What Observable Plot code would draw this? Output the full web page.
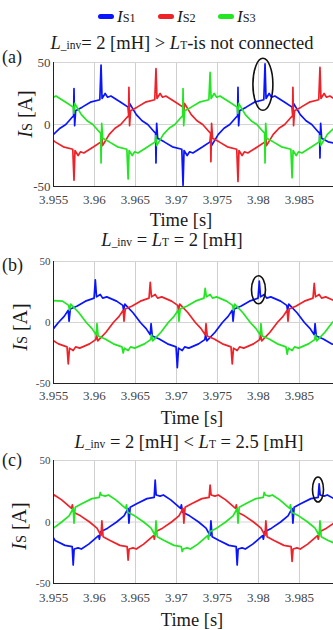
<!DOCTYPE html>
<html><head><meta charset="utf-8">
<script src="https://cdn.jsdelivr.net/npm/d3@7"></script>
<script src="https://cdn.jsdelivr.net/npm/@observablehq/plot@0.6"></script>
<style>
body{margin:0;background:#fff;}
#root{position:relative;width:333px;height:630px;overflow:hidden;font-family:"Liberation Serif","Times New Roman",serif;color:#1a1a1a;}
#root svg text{font-family:"Liberation Serif","Times New Roman",serif !important;}
.abs{position:absolute;white-space:nowrap;line-height:1;}
.sub{font-size:0.62em;}
.dash{position:absolute;width:16px;height:5px;border-radius:2.5px;}
.panel{position:absolute;left:0;}
</style></head><body><div id="root"></div>
<script>
// ---------- data (time [s], current [A]) ----------
const seriesNames = ["Is1", "Is2", "Is3"];
const seriesColors = ["#0a14ff", "#ee2228", "#22e622"];
const xTicks = [3.955, 3.96, 3.965, 3.97, 3.975, 3.98, 3.985];
const xTickLabels = ["3.955", "3.96", "3.965", "3.97", "3.975", "3.98", "3.985"];
const yTicks = [-50, 0, 50];
const yTickLabels = ["-50", "0", "50"];

const a_Is1 = [[3.9550,-8],[3.9558,-3],[3.9565,0],[3.9573,6],[3.95745,7],[3.9575,29],[3.95758,-1],[3.9577,11],[3.9585,14],[3.9595,18],[3.96065,20],[3.9608,48],[3.96092,21],[3.9613,25],[3.9616,22],[3.9620,23],[3.9632,18],[3.9641,14],[3.96418,9],[3.96428,17],[3.9651,8],[3.9658,3],[3.9665,0],[3.9673,-6],[3.96745,-7],[3.9675,-31],[3.96758,1],[3.9677,-11],[3.9685,-14],[3.9695,-18],[3.97065,-20],[3.9708,-49],[3.97092,-21],[3.9713,-25],[3.9716,-22],[3.9720,-23],[3.9732,-18],[3.9741,-14],[3.97418,-9],[3.97428,-17],[3.9751,-8],[3.9758,-3],[3.9765,0],[3.9773,6],[3.97745,7],[3.9775,30],[3.97758,-1],[3.9777,11],[3.9785,14],[3.9795,18],[3.98065,20],[3.9808,49],[3.98092,21],[3.9813,25],[3.9816,22],[3.9820,23],[3.9832,18],[3.9841,14],[3.98418,9],[3.98428,17],[3.9851,8],[3.9858,3],[3.9865,0],[3.9873,-6],[3.98745,-7],[3.9875,-27],[3.98758,1],[3.9877,-11],[3.9885,-14],[3.9892,-15]];
const a_Is2 = [[3.9550,-13],[3.9552,-14],[3.9562,-18],[3.95735,-20],[3.9575,-45],[3.95762,-21],[3.9580,-25],[3.9583,-22],[3.9587,-23],[3.9599,-18],[3.9608,-14],[3.96088,-9],[3.96098,-17],[3.9618,-8],[3.9625,-3],[3.9632,0],[3.9640,6],[3.96415,7],[3.9642,30],[3.96428,-1],[3.9644,11],[3.9652,14],[3.9662,18],[3.96735,20],[3.9675,45],[3.96762,21],[3.9680,25],[3.9683,22],[3.9687,23],[3.9699,18],[3.9708,14],[3.97088,9],[3.97098,17],[3.9718,8],[3.9725,3],[3.9732,0],[3.9740,-6],[3.97415,-7],[3.9742,-30],[3.97428,1],[3.9744,-11],[3.9752,-14],[3.9762,-18],[3.97735,-20],[3.9775,-46],[3.97762,-21],[3.9780,-25],[3.9783,-22],[3.9787,-23],[3.9799,-18],[3.9808,-14],[3.98088,-9],[3.98098,-17],[3.9818,-8],[3.9825,-3],[3.9832,0],[3.9840,6],[3.98415,7],[3.9842,30],[3.98428,-1],[3.9844,11],[3.9852,14],[3.9862,18],[3.98735,20],[3.9875,46],[3.98762,21],[3.9880,25],[3.9883,22],[3.9887,23],[3.9892,21]];
const a_Is3 = [[3.9550,22],[3.9553,23],[3.9565,18],[3.9574,14],[3.95748,9],[3.95758,17],[3.9584,8],[3.9591,3],[3.9598,0],[3.9606,-6],[3.96075,-7],[3.9608,-31],[3.96088,1],[3.9610,-11],[3.9618,-14],[3.9628,-18],[3.96395,-20],[3.9641,-44],[3.96422,-21],[3.9646,-25],[3.9649,-22],[3.9653,-23],[3.9665,-18],[3.9674,-14],[3.96748,-9],[3.96758,-17],[3.9684,-8],[3.9691,-3],[3.9698,0],[3.9706,6],[3.97075,7],[3.9708,29],[3.97088,-1],[3.9710,11],[3.9718,14],[3.9728,18],[3.97395,20],[3.9741,42],[3.97422,21],[3.9746,25],[3.9749,22],[3.9753,23],[3.9765,18],[3.9774,14],[3.97748,9],[3.97758,17],[3.9784,8],[3.9791,3],[3.9798,0],[3.9806,-6],[3.98075,-7],[3.9808,-31],[3.98088,1],[3.9810,-11],[3.9818,-14],[3.9828,-18],[3.98395,-20],[3.9841,-43],[3.98422,-21],[3.9846,-25],[3.9849,-22],[3.9853,-23],[3.9865,-18],[3.9874,-14],[3.98748,-9],[3.98758,-17],[3.9884,-8],[3.9892,-3]];

const b_Is1 = [[3.9550,-5],[3.9556,0],[3.9563,5],[3.9568,10],[3.9569,1],[3.95705,11],[3.9579,13.5],[3.9589,17.5],[3.95995,20],[3.9601,35],[3.96025,21],[3.9607,23],[3.9610,20],[3.9615,21],[3.9627,17.5],[3.96345,14],[3.96355,10],[3.9637,15],[3.9647,8],[3.9656,0],[3.9663,-5],[3.9668,-10],[3.9669,-1],[3.96705,-11],[3.9679,-13.5],[3.9689,-17.5],[3.96995,-20],[3.9701,-37],[3.97025,-21],[3.9707,-23],[3.9710,-20],[3.9715,-21],[3.9727,-17.5],[3.97345,-14],[3.97355,-10],[3.9737,-15],[3.9747,-8],[3.9756,0],[3.9763,5],[3.9768,10],[3.9769,1],[3.97705,11],[3.9779,13.5],[3.9789,17.5],[3.97995,20],[3.9801,34],[3.98025,21],[3.9807,23],[3.9810,20],[3.9815,21],[3.9827,17.5],[3.98345,14],[3.98355,10],[3.9837,15],[3.9847,8],[3.9856,0],[3.9863,-5],[3.9868,-10],[3.9869,-1],[3.98705,-11],[3.9879,-13.5],[3.9889,-17.5],[3.9892,-18]];
const b_Is2 = [[3.9550,-15],[3.9556,-17.5],[3.95665,-20],[3.9568,-34],[3.95695,-21],[3.9574,-23],[3.9577,-20],[3.9582,-21],[3.9594,-17.5],[3.96015,-14],[3.96025,-10],[3.9604,-15],[3.9614,-8],[3.9623,0],[3.9630,5],[3.9635,10],[3.9636,1],[3.96375,11],[3.9646,13.5],[3.9656,17.5],[3.96665,20],[3.9668,33],[3.96695,21],[3.9674,23],[3.9677,20],[3.9682,21],[3.9694,17.5],[3.97015,14],[3.97025,10],[3.9704,15],[3.9714,8],[3.9723,0],[3.9730,-5],[3.9735,-10],[3.9736,-1],[3.97375,-11],[3.9746,-13.5],[3.9756,-17.5],[3.97665,-20],[3.9768,-34],[3.97695,-21],[3.9774,-23],[3.9777,-20],[3.9782,-21],[3.9794,-17.5],[3.98015,-14],[3.98025,-10],[3.9804,-15],[3.9814,-8],[3.9823,0],[3.9830,5],[3.9835,10],[3.9836,1],[3.98375,11],[3.9846,13.5],[3.9856,17.5],[3.98665,20],[3.9868,32],[3.98695,21],[3.9874,23],[3.9877,20],[3.9882,21],[3.9892,18]];
const b_Is3 = [[3.9550,18],[3.9561,17.5],[3.95685,14],[3.95695,10],[3.9571,15],[3.9581,8],[3.9590,0],[3.9597,-5],[3.9602,-10],[3.9603,-1],[3.96045,-11],[3.9613,-13.5],[3.9623,-17.5],[3.96335,-20],[3.9635,-25],[3.96365,-21],[3.9641,-23],[3.9644,-20],[3.9649,-21],[3.9661,-17.5],[3.96685,-14],[3.96695,-10],[3.9671,-15],[3.9681,-8],[3.9690,0],[3.9697,5],[3.9702,10],[3.9703,1],[3.97045,11],[3.9713,13.5],[3.9723,17.5],[3.97335,20],[3.9735,28],[3.97365,21],[3.9741,23],[3.9744,20],[3.9749,21],[3.9761,17.5],[3.97685,14],[3.97695,10],[3.9771,15],[3.9781,8],[3.9790,0],[3.9797,-5],[3.9802,-10],[3.9803,-1],[3.98045,-11],[3.9813,-13.5],[3.9823,-17.5],[3.98335,-20],[3.9835,-26],[3.98365,-21],[3.9841,-23],[3.9844,-20],[3.9849,-21],[3.9861,-17.5],[3.98685,-14],[3.98695,-10],[3.9871,-15],[3.9881,-8],[3.9890,0],[3.9892,1]];

const c_Is1 = [[3.9550,-13],[3.9552,-15],[3.9564,-19],[3.95728,-20],[3.9574,-35],[3.95752,-22],[3.9580,-21],[3.9584,-22],[3.9593,-18],[3.9605,-11],[3.9606,-14],[3.96075,-8],[3.9616,-5],[3.9627,0],[3.9636,5],[3.9641,11],[3.9642,-1],[3.96435,12],[3.9652,15],[3.9664,19],[3.96728,20],[3.9674,34],[3.96752,22],[3.9680,21],[3.9684,22],[3.9693,18],[3.9705,11],[3.9706,14],[3.97075,8],[3.9716,5],[3.9727,0],[3.9736,-5],[3.9741,-11],[3.9742,1],[3.97435,-12],[3.9752,-15],[3.9764,-19],[3.97728,-20],[3.9774,-35],[3.97752,-22],[3.9780,-21],[3.9784,-22],[3.9793,-18],[3.9805,-11],[3.9806,-14],[3.98075,-8],[3.9816,-5],[3.9827,0],[3.9836,5],[3.9841,11],[3.9842,-1],[3.98435,12],[3.9852,15],[3.9864,19],[3.98728,20],[3.9874,31],[3.98752,22],[3.9880,21],[3.9884,22],[3.9892,19]];
const c_Is2 = [[3.9550,21],[3.9551,22],[3.9560,18],[3.9572,11],[3.9573,14],[3.95745,8],[3.9583,5],[3.9594,0],[3.9603,-5],[3.9608,-11],[3.9609,1],[3.96105,-12],[3.9619,-15],[3.9631,-19],[3.96398,-20],[3.9641,-31],[3.96422,-22],[3.9647,-21],[3.9651,-22],[3.9660,-18],[3.9672,-11],[3.9673,-14],[3.96745,-8],[3.9683,-5],[3.9694,0],[3.9703,5],[3.9708,11],[3.9709,-1],[3.97105,12],[3.9719,15],[3.9731,19],[3.97398,20],[3.9741,30],[3.97422,22],[3.9747,21],[3.9751,22],[3.9760,18],[3.9772,11],[3.9773,14],[3.97745,8],[3.9783,5],[3.9794,0],[3.9803,-5],[3.9808,-11],[3.9809,1],[3.98105,-12],[3.9819,-15],[3.9831,-19],[3.98398,-20],[3.9841,-32],[3.98422,-22],[3.9847,-21],[3.9851,-22],[3.9860,-18],[3.9872,-11],[3.9873,-14],[3.98745,-8],[3.9883,-5],[3.9892,-1]];
const c_Is3 = [[3.9550,-5],[3.9560,0],[3.9569,5],[3.9574,11],[3.9575,-1],[3.95765,12],[3.9585,15],[3.9597,19],[3.96058,20],[3.9607,24],[3.96082,22],[3.9613,21],[3.9617,22],[3.9626,18],[3.9638,11],[3.9639,14],[3.96405,8],[3.9649,5],[3.9660,0],[3.9669,-5],[3.9674,-11],[3.9675,1],[3.96765,-12],[3.9685,-15],[3.9697,-19],[3.97058,-20],[3.9707,-24],[3.97082,-22],[3.9713,-21],[3.9717,-22],[3.9726,-18],[3.9738,-11],[3.9739,-14],[3.97405,-8],[3.9749,-5],[3.9760,0],[3.9769,5],[3.9774,11],[3.9775,-1],[3.97765,12],[3.9785,15],[3.9797,19],[3.98058,20],[3.9807,24],[3.98082,22],[3.9813,21],[3.9817,22],[3.9826,18],[3.9838,11],[3.9839,14],[3.98405,8],[3.9849,5],[3.9860,0],[3.9869,-5],[3.9874,-11],[3.9875,1],[3.98765,-12],[3.9885,-15],[3.9892,-17]];

// highlighted spikes (ellipse annotation): [time, current]
const a_mark = [3.9806, 32];
const b_mark = [3.98006, 26.4];
const c_mark = [3.98732, 26];

// ---------- layout ----------
const root = document.getElementById("root");
const serif = '"Liberation Serif", "Times New Roman", serif';
const xDomain = [3.955, 3.98915];
const xLab = new Map(xTicks.map((t, i) => [t, xTickLabels[i]]));
const yLab = new Map(yTicks.map((t, i) => [t, yTickLabels[i]]));

function addHTML(html, style) {
  const d = document.createElement("div");
  d.className = "abs";
  d.innerHTML = html;
  Object.assign(d.style, style);
  root.appendChild(d);
  return d;
}

const panels = [
  {label: "(a)", data: [a_Is1, a_Is2, a_Is3], mark: a_mark, rx: 10, ry: 26, top: 54, plotH: 124, xPad: 8, yFont: 13,
   title: '<i>L</i><span class="sub">_inv</span>= 2 [mH] &gt; <i>L</i><span class="sub">T</span>-is not connected',
   titleX: 182, titleTop: 34, labTop: 48, ylabX: 25, ylabY: 114, timeX: 181, timeTop: 211},
  {label: "(b)", data: [b_Is1, b_Is2, b_Is3], mark: b_mark, rx: 7, ry: 14, top: 253, plotH: 122, xPad: 7, yFont: 11,
   title: '<i>L</i><span class="sub">_inv</span> = <i>L</i><span class="sub">T</span> = 2 [mH]',
   titleX: 172, titleTop: 231, labTop: 256, ylabX: 20, ylabY: 327, timeX: 192, timeTop: 409},
  {label: "(c)", data: [c_Is1, c_Is2, c_Is3], mark: c_mark, rx: 5.5, ry: 12.5, top: 452, plotH: 123, xPad: 9, yFont: 11,
   title: '<i>L</i><span class="sub">_inv</span> = 2 [mH] &lt; <i>L</i><span class="sub">T</span> = 2.5 [mH]',
   titleX: 189, titleTop: 433, labTop: 451, ylabX: 19, ylabY: 526, timeX: 192, timeTop: 611}
];

for (const p of panels) {
  const mt = 8, mb = 24;
  const marks = [
    Plot.gridX(xTicks, {stroke: "#cfcfcf", strokeOpacity: 1, strokeWidth: 1}),
    Plot.ruleY([0, 50], {stroke: "#d4d4d4", strokeWidth: 1}),
    ...p.data.map((d, i) => Plot.line(d, {x: (v) => v[0], y: (v) => v[1], stroke: seriesColors[i], strokeWidth: 1.7, clip: true, curve: "linear"})),
    Plot.ruleY([-50], {stroke: "#222", strokeWidth: 1}),
    Plot.ruleX([3.955], {stroke: "#222", strokeWidth: 1}),
    Plot.axisX(xTicks, {tickSize: 0, tickPadding: p.xPad, tickFormat: (d) => xLab.get(d), fontSize: 13, fontFamily: serif, fill: "#444", label: null}),
    Plot.axisY(yTicks, {tickSize: 0, tickPadding: 3, tickFormat: (d) => yLab.get(d), fontSize: p.yFont, fontFamily: serif, fill: "#444", label: null})
  ];
  const chart = Plot.plot({
    width: 333, height: mt + p.plotH + mb,
    marginTop: mt, marginBottom: mb, marginLeft: 53, marginRight: 0,
    x: {domain: xDomain},
    y: {domain: [-50, 50]},
    style: {background: "transparent", fontFamily: serif, overflow: "visible"},
    marks
  });
  // ellipse annotation placed through the chart's own scales
  const sx = chart.scale("x"), sy = chart.scale("y");
  const e = document.createElementNS("http://www.w3.org/2000/svg", "ellipse");
  e.setAttribute("cx", sx.apply(p.mark[0]));
  e.setAttribute("cy", sy.apply(p.mark[1]));
  e.setAttribute("rx", p.rx);
  e.setAttribute("ry", p.ry);
  e.setAttribute("fill", "none");
  e.setAttribute("stroke", "#111");
  e.setAttribute("stroke-width", 1.6);
  chart.appendChild(e);
  chart.classList.add("panel");
  chart.style.top = p.top + "px";
  root.appendChild(chart);

  addHTML(p.title, {left: p.titleX + "px", top: p.titleTop + "px", fontSize: "18.5px", transform: "translateX(-50%)"});
  addHTML(p.label, {left: "2px", top: p.labTop + "px", fontSize: "18px"});
  addHTML('<i>I</i><span style="font-size:0.72em">S</span> [A]', {left: p.ylabX + "px", top: p.ylabY + "px", fontSize: "20px", transform: "translate(-50%,-50%) rotate(-90deg)"});
  addHTML("Time [s]", {left: p.timeX + "px", top: p.timeTop + "px", fontSize: "18.5px", transform: "translateX(-50%)"});
}

// legend
const legendX = [98, 158, 218];
seriesNames.forEach((n, i) => {
  const d = document.createElement("div");
  d.className = "dash";
  d.style.left = legendX[i] + "px";
  d.style.top = "14px";
  d.style.background = seriesColors[i];
  root.appendChild(d);
  addHTML('<i>I</i><span style="font-size:0.72em">' + n.slice(1).toUpperCase() + '</span>', {left: (legendX[i] + 19) + "px", top: "8px", fontSize: "17px"});
});
</script></body></html>
